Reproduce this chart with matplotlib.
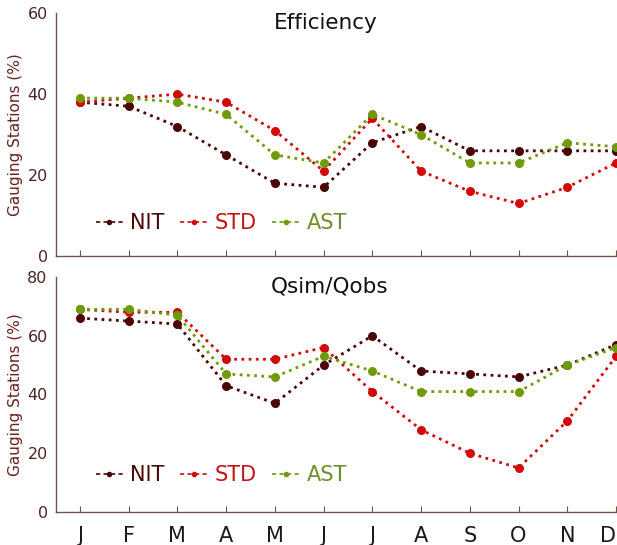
import matplotlib
matplotlib.use("Agg")
import matplotlib.pyplot as plt
from matplotlib.lines import Line2D

months = ["J", "F", "M", "A", "M", "J", "J", "A", "S", "O", "N", "D"]
series_names = ["NIT", "STD", "AST"]

# Efficiency (% of gauging stations)
eff_nit = [38, 37, 32, 25, 18, 17, 28, 32, 26, 26, 26, 26]
eff_std = [38, 39, 40, 38, 31, 21, 34, 21, 16, 13, 17, 23]
eff_ast = [39, 39, 38, 35, 25, 23, 35, 30, 23, 23, 28, 27]

# Qsim/Qobs (% of gauging stations)
q_nit = [66, 65, 64, 43, 37, 50, 60, 48, 47, 46, 50, 57]
q_std = [69, 68, 68, 52, 52, 56, 41, 28, 20, 15, 31, 53]
q_ast = [69, 69, 67, 47, 46, 53, 48, 41, 41, 41, 50, 56]

colors = {"NIT": "#4a0606", "STD": "#d10a0a", "AST": "#6f9a0a"}
text_colors = {"NIT": "#4a0a0a", "STD": "#c21414", "AST": "#6f8f2a"}
spine_col = "#6d5050"
tick_col = "#4a2424"

fig = plt.figure(figsize=(6.17, 5.45), dpi=100)
ax1 = fig.add_axes([0.0908, 0.530, 0.9092, 0.446])
ax2 = fig.add_axes([0.0908, 0.0606, 0.9092, 0.4311])

x = list(range(1, len(months) + 1))


def draw(ax, data, title, ymax, yticks, title_pos, legend_y):
    for name, vals in zip(series_names, data):
        ax.plot(x, vals, linestyle=(0, (1, 1.6)), linewidth=2.0,
                color=colors[name], marker="o", markersize=6.5,
                markeredgewidth=0, zorder=3)
    ax.set_xlim(0.51, 12.02)
    ax.set_ylim(0, ymax)
    ax.set_yticks(yticks)
    ax.set_xticks(x)
    for s in ("top", "right"):
        ax.spines[s].set_visible(False)
    for s in ("left", "bottom"):
        ax.spines[s].set_color(spine_col)
        ax.spines[s].set_linewidth(1.0)
    ax.tick_params(axis="y", length=0, labelsize=11.5, labelcolor=tick_col, pad=6)
    ax.tick_params(axis="x", direction="in", length=4, color=spine_col,
                   labelsize=15, labelcolor="#1a1a1a", pad=10)
    ax.set_ylabel("Gauging Stations (%)", fontsize=11, color="#6a2020",
                  labelpad=3)
    ax.text(title_pos, 0.958, title, transform=ax.transAxes, ha="center",
            va="center", fontsize=15.5, color="#111111")
    handles = [Line2D([], [], linestyle=(0, (2.5, 2)), linewidth=1.2,
                      color=colors[n], marker="o", markersize=4,
                      markeredgewidth=0) for n in series_names]
    leg = ax.legend(handles, series_names, loc="center left",
                    bbox_to_anchor=(0.071, legend_y), ncol=3, frameon=False,
                    fontsize=15, handlelength=1.3, handletextpad=0.35,
                    columnspacing=0.75, borderaxespad=0, borderpad=0)
    for txt, n in zip(leg.get_texts(), series_names):
        txt.set_color(text_colors[n])


draw(ax1, [eff_nit, eff_std, eff_ast], "Efficiency", 60, [0, 20, 40, 60],
     0.48, 0.136)
draw(ax2, [q_nit, q_std, q_ast], "Qsim/Qobs", 80, [0, 20, 40, 60, 80],
     0.488, 0.157)
ax1.set_xticklabels([])
ax2.set_xticklabels(months)
# keep the last month label inside the figure edge
ax2.get_xticklabels()[-1].set_horizontalalignment("right")

fig.savefig("out.png", dpi=100)
